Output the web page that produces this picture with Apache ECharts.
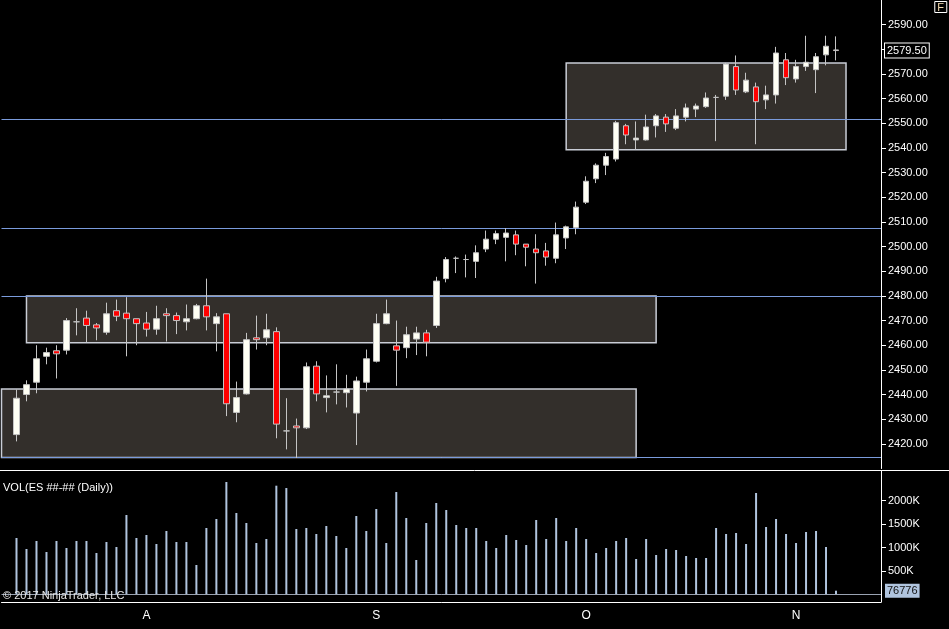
<!DOCTYPE html>
<html>
<head>
<meta charset="utf-8">
<title>ES Daily</title>
<script src="https://cdn.jsdelivr.net/npm/echarts@6/dist/echarts.min.js"></script>
<style>
  html, body { margin: 0; padding: 0; background: #000; }
  .chart { width: 949px; height: 629px; }
</style>
</head>
<body>
<div class="chart"></div>
<script>
// 日线K线数据
var opens = [2423.75, 2440, 2445, 2455.5, 2457.75, 2458, 2469.5, 2471, 2468.25, 2465.25,
  2474, 2473, 2470.75, 2469, 2466.5, 2472.75, 2472, 2469.5, 2470.75, 2476,
  2468.75, 2472.75, 2432.75, 2440.25, 2463, 2463, 2465.5, 2425.25, 2427.25, 2426.5,
  2451.5, 2438.75, 2441, 2440.75, 2432.5, 2445, 2453.5, 2468.75, 2459.75, 2459,
  2462.5, 2465, 2468, 2487, 2495.25, 2494.75, 2494, 2499, 2503, 2503.75,
  2504.75, 2501, 2499, 2498.25, 2495.25, 2503.5, 2507.75, 2518, 2527.5, 2533,
  2535.5, 2549, 2543.25, 2543.25, 2549, 2552.5, 2548, 2552.5, 2555.75, 2556.75,
  2560.5, 2561, 2573, 2562.75, 2564.75, 2559.5, 2561.5, 2575.75, 2568, 2573,
  2571.75, 2577.75, 2579.75];
var closes = [2438.5, 2444, 2454.5, 2457, 2456.5, 2470, 2469.5, 2468, 2467, 2472.75,
  2471.75, 2470.75, 2468.75, 2466.5, 2470.75, 2472, 2470, 2470.75, 2476, 2471.5,
  2471.5, 2436.25, 2438.75, 2462.25, 2462.25, 2466.25, 2428, 2425.25, 2426.5, 2451.25,
  2440.25, 2439.5, 2441, 2442.25, 2445.5, 2454.5, 2468.75, 2472.75, 2458, 2464.25,
  2465, 2461.25, 2486, 2494.75, 2495.25, 2494.75, 2497.5, 2503, 2505.25, 2505.5,
  2501, 2499.75, 2497.5, 2495.75, 2504.75, 2508, 2516, 2526.5, 2533, 2536.5,
  2550.25, 2545.25, 2544, 2548.5, 2553, 2549.75, 2553, 2556.25, 2557, 2560.25,
  2560.5, 2574, 2563.5, 2567.5, 2558.75, 2561.5, 2578.5, 2568.5, 2573, 2574.75,
  2577, 2581.25, 2579.5];
var lows = [2421, 2437.25, 2440.5, 2452.25, 2446.5, 2456.25, 2464, 2461.25, 2462, 2464.25,
  2469.75, 2455.5, 2460, 2463.5, 2464.25, 2461.5, 2464.5, 2466, 2470.5, 2466,
  2457.5, 2431.25, 2428.75, 2440, 2458.25, 2460, 2422.25, 2417.75, 2414.25, 2426,
  2437.25, 2432.75, 2436, 2434.75, 2419.5, 2441.25, 2453, 2468.5, 2443.5, 2454.75,
  2456, 2455.5, 2467, 2485.5, 2489.25, 2487.5, 2487.25, 2497.75, 2501, 2494,
  2496.5, 2492, 2485, 2492.25, 2493.25, 2499, 2505, 2517.25, 2525.75, 2529,
  2534.5, 2541.5, 2539.25, 2543, 2544.25, 2546.5, 2547.25, 2550.75, 2552.5, 2556.25,
  2542.75, 2559.5, 2561.5, 2562.25, 2541.5, 2555.75, 2558, 2565.5, 2566.5, 2571.25,
  2562.25, 2573.5, 2575.5];
var highs = [2442, 2445.75, 2460, 2459, 2460, 2471, 2475, 2474, 2469, 2477.25,
  2478.5, 2479.5, 2470.75, 2473.5, 2476, 2475, 2473.25, 2476.5, 2476.75, 2487,
  2473, 2472.75, 2445.25, 2465, 2472, 2472.75, 2467.25, 2438.5, 2430.25, 2453,
  2453.5, 2447.75, 2452.25, 2448, 2447.25, 2458.25, 2472.75, 2478.5, 2470, 2467.5,
  2467.5, 2466.25, 2487.75, 2495.75, 2496, 2496.75, 2500.5, 2506.5, 2506.5, 2507.5,
  2506.5, 2501, 2505, 2501.5, 2509.75, 2508.5, 2518.25, 2528.5, 2533.75, 2538,
  2551, 2549.75, 2550.75, 2553.5, 2553.75, 2553.75, 2555.75, 2558, 2558, 2562.5,
  2561.5, 2574.5, 2577.5, 2570.5, 2566.5, 2565.25, 2581, 2578.5, 2575.75, 2585.5,
  2578.5, 2585.5, 2585.25];
var volumes = [1203000, 968000, 1139000, 904000, 1139000, 989000, 1139000, 1139000, 882000, 1118000,
  1011000, 1694000, 1203000, 1267000, 1075000, 1353000, 1118000, 1118000, 626000, 1417000,
  1609000, 2400000, 1737000, 1524000, 1096000, 1182000, 2321000, 2271000, 1395000, 1417000,
  1289000, 1459000, 1246000, 989000, 1673000, 1353000, 1823000, 1096000, 2186000, 1630000,
  733000, 1524000, 1951000, 1801000, 1481000, 1417000, 1417000, 1139000, 989000, 1267000,
  1160000, 1053000, 1588000, 1182000, 1630000, 1139000, 1417000, 1182000, 882000, 989000,
  1139000, 1203000, 754000, 1182000, 840000, 968000, 947000, 818000, 776000, 776000,
  1417000, 1289000, 1310000, 1075000, 2165000, 1438000, 1609000, 1289000, 1096000, 1331000,
  1353000, 1011000, 76776];

// 月份刻度（K线序号）
var monthIdx = [13, 36, 57, 78];
var monthNames = ['A', 'S', 'O', 'N'];
// 坐标轴刻度
var priceTicks = [2420, 2430, 2440, 2450, 2460, 2470, 2480, 2490, 2500, 2510,
  2520, 2530, 2540, 2550, 2560, 2570, 2580, 2590];
var volTicks = [500000, 1000000, 1500000, 2000000];
// 水平线和矩形区域（画线工具）
var levels = [2551.5, 2507.5, 2480, 2414.5];
var zoneFrom = [1, null, 55];
var zoneTo = [64, 62, 83];
var zoneTop = [2480, 2442.25, 2574.5];
var zoneBottom = [2461, 2414.5, 2539.25];

(function() {
  // 1. 实例化对象
  var myChart = echarts.init(document.querySelector('.chart'));

  // 类目轴前面空一格，后面留出右侧空白
  var cats = [];
  for (var k = 0; k < 88; k++) cats.push(String(k));
  var candleData = [['-', '-', '-', '-']];
  var volData = ['-'];
  for (var i = 0; i < closes.length; i++) {
    candleData.push([opens[i], closes[i], lows[i], highs[i]]);
    volData.push(volumes[i]);
  }
  var labelAt = {};
  monthIdx.forEach(function(d, j) { labelAt[d + 1] = monthNames[j]; });
  var showMonth = function(idx) { return labelAt[idx] !== undefined; };

  var zones = zoneTo.map(function(t, j) {
    var a = { yAxis: zoneTop[j] };
    if (zoneFrom[j] !== null) a.xAxis = String(zoneFrom[j] + 1);
    return [a, { xAxis: String(t + 1), yAxis: zoneBottom[j] }];
  });
  var lines = levels.map(function(v) { return { yAxis: v }; });
  var last = closes.length - 1;
  lines.push({
    yAxis: closes[last],
    lineStyle: { color: 'rgba(0,0,0,0)' },
    label: {
      show: true, position: 'end', distance: 4,
      formatter: closes[last].toFixed(2),
      color: '#fff', backgroundColor: '#000', borderColor: '#fff', borderWidth: 1,
      padding: [2, 2, 1, 2], fontSize: 11
    }
  });

  var font = 'Arial, "Liberation Sans", sans-serif';
  var white = '#ffffff';

  // 2. 指定配置项和数据
  var option = {
    backgroundColor: '#000',
    animation: false,
    textStyle: { fontFamily: font },
    title: [
      {
        text: 'F', right: 2, top: 1, padding: [1, 3, 0, 3],
        borderColor: white, borderWidth: 1,
        textStyle: { color: '#f6dcb0', fontSize: 11, fontWeight: 'normal', fontFamily: font }
      },
      {
        text: 'VOL(ES ##-## (Daily))', left: 3, top: 482, padding: 0,
        textStyle: { color: white, fontSize: 11, fontWeight: 'normal', fontFamily: font }
      },
      {
        text: '\u00a9 2017 NinjaTrader, LLC', left: 3, top: 590, padding: 0,
        textStyle: { color: '#e8e8e8', fontSize: 11, fontWeight: 'normal', fontFamily: font }
      }
    ],
    graphic: [
      {
        type: 'line', silent: true,
        shape: { x1: 0, y1: 470.5, x2: 949, y2: 470.5 },
        style: { stroke: white, lineWidth: 1 }
      }
    ],
    grid: [
      { left: 1.5, right: 68, top: 0, height: 468.5 },
      { left: 1.5, right: 68, top: 471, height: 131 }
    ],
    xAxis: [
      { type: 'category', gridIndex: 0, data: cats, show: false },
      {
        type: 'category', gridIndex: 1, data: cats,
        axisLine: { onZero: false, lineStyle: { color: white } },
        axisTick: { alignWithLabel: true, interval: showMonth, length: 6, lineStyle: { color: white } },
        axisLabel: {
          interval: showMonth, color: white, fontSize: 12, margin: 8,
          formatter: function(v, idx) { return labelAt[idx] || ''; }
        },
        splitLine: { show: false }
      }
    ],
    yAxis: [
      {
        type: 'value', gridIndex: 0, position: 'right', min: 2410, max: 2600,
        axisLine: { show: true, lineStyle: { color: white } },
        axisTick: { show: true, length: 5, customValues: priceTicks, lineStyle: { color: white } },
        axisLabel: {
          customValues: priceTicks, color: white, fontSize: 11, margin: 7,
          formatter: function(v) { return v.toFixed(2); }
        },
        splitLine: { show: false }
      },
      {
        type: 'value', gridIndex: 1, position: 'right', min: -165000, max: 2635000,
        axisLine: { show: true, lineStyle: { color: white } },
        axisTick: { show: true, length: 5, customValues: volTicks, lineStyle: { color: white } },
        axisLabel: {
          customValues: volTicks, color: white, fontSize: 11, margin: 7,
          formatter: function(v) { return (v / 1000) + 'K'; }
        },
        splitLine: { show: false }
      }
    ],
    series: [
      {
        name: 'ES', type: 'candlestick', xAxisIndex: 0, yAxisIndex: 0,
        z: 3, barWidth: 6,
        data: candleData,
        itemStyle: {
          color: '#fffff4', color0: '#ff0000',
          borderColor: '#c4c4c4', borderColor0: '#c4c4c4', borderWidth: 1
        },
        markArea: {
          silent: true, z: 1,
          itemStyle: { color: '#332f2b', borderColor: '#c9cdd6', borderWidth: 1.5 },
          label: { show: false },
          data: zones
        },
        markLine: {
          silent: true, z: 2, symbol: 'none',
          lineStyle: { color: '#7a9bdc', width: 1, type: 'solid' },
          label: { show: false },
          data: lines
        }
      },
      {
        name: 'VOL', type: 'bar', xAxisIndex: 1, yAxisIndex: 1,
        barWidth: 2, data: volData,
        itemStyle: { color: '#b0c4de' },
        markLine: {
          silent: true, symbol: 'none',
          lineStyle: { color: '#9aa3b2', width: 1, type: 'solid' },
          label: { show: false },
          data: [
            { yAxis: 0 },
            {
              yAxis: volumes[last],
              lineStyle: { color: 'rgba(0,0,0,0)' },
              label: {
                show: true, position: 'end', distance: 4,
                formatter: String(volumes[last]),
                color: '#111', backgroundColor: '#b0c4de',
                padding: [2, 2, 1, 2], fontSize: 11
              }
            }
          ]
        }
      }
    ]
  };
  // 3. 配置项和数据给我们的实例化对象
  myChart.setOption(option);
  window.addEventListener('resize', function() {
    myChart.resize();
  });
})();
</script>
</body>
</html>
